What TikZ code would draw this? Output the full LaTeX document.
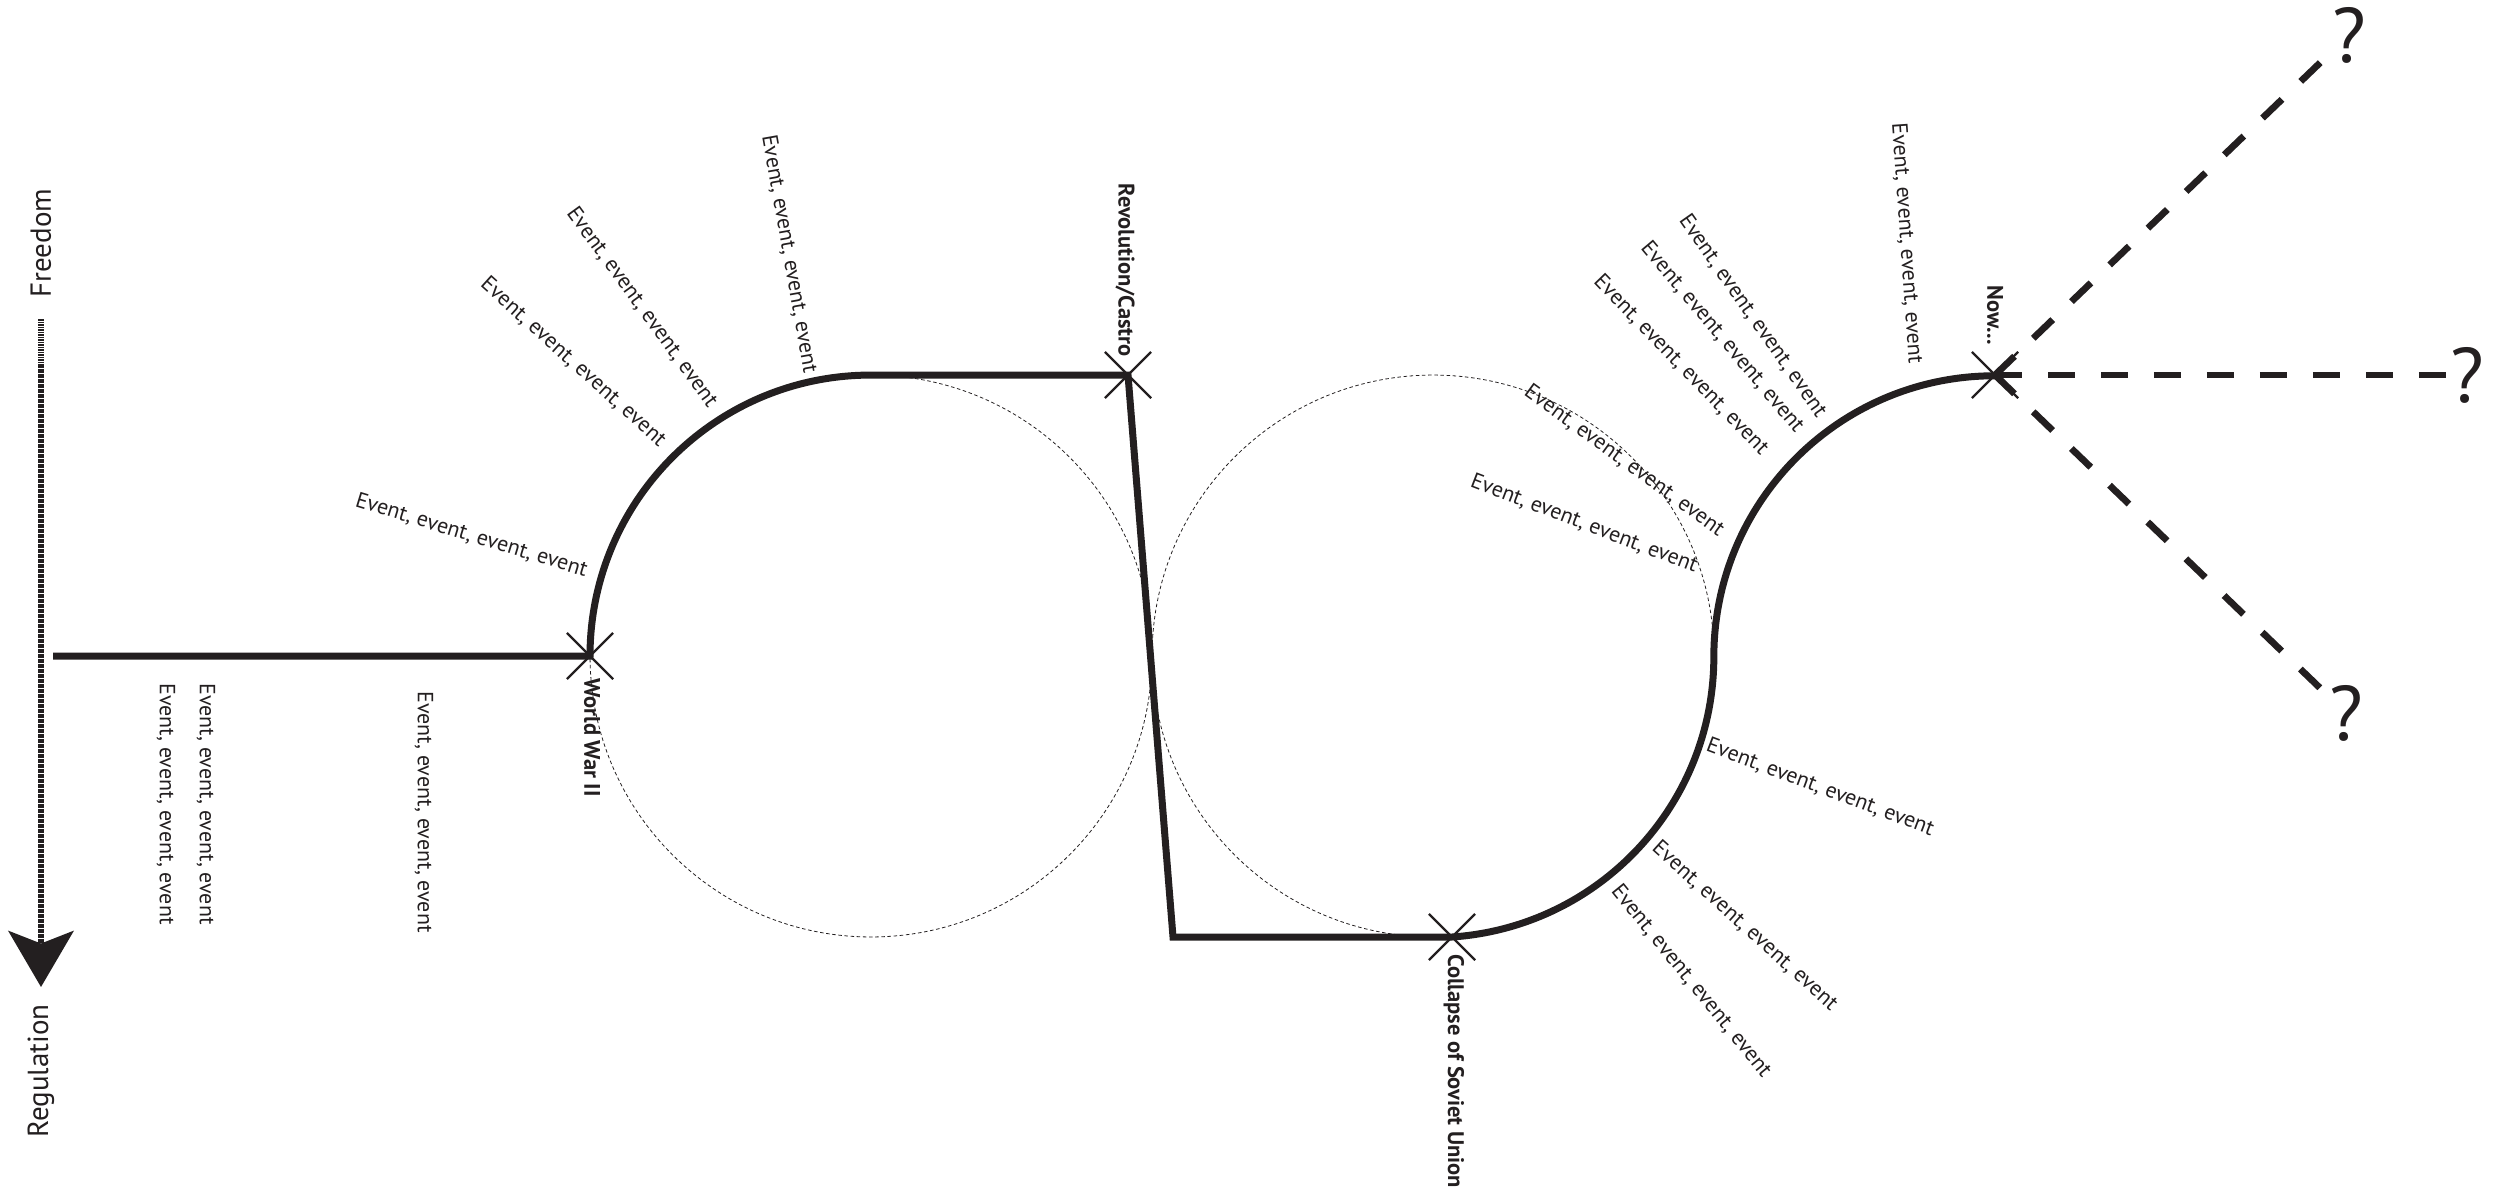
\documentclass[tikz,border=0pt]{standalone}
\usepackage{fontspec}
\setmainfont{PT Sans}
\usetikzlibrary{arrows.meta,shapes.misc}
\definecolor{ink}{RGB}{35,31,32}
\begin{document}
\begin{tikzpicture}[x=0.02cm,y=0.02cm,
  thickpath/.style={line width=0.14cm, draw=ink},
  guide/.style={line width=0.45pt, draw=ink, dash pattern=on 2pt off 1.5pt},
  xmark/.style={cross out, draw=ink, line width=0.045cm, minimum size=0.88cm, inner sep=0pt},
  evt/.style={font=\fontsize{12.5}{15}\selectfont, text=ink, inner sep=0pt},
  milestone/.style={font=\bfseries\fontsize{12.8}{15}\selectfont, text=ink, inner sep=0pt},
  axislab/.style={font=\fontsize{16.5}{19}\selectfont, text=ink, rotate=90, inner sep=0pt},
  qmark/.style={font=\fontsize{44}{50}\selectfont, text=ink, inner sep=2pt},
  future/.style={line width=0.135cm, draw=ink, dash pattern=on 0.54cm off 0.52cm},
  axisline/.style={draw=ink, line width=0.13cm, dash pattern=on 0.034cm off 0.016cm,
     -{Stealth[length=1.12cm,width=1.3cm,inset=0.25cm]}}
]
\fill[white] (0,0) rectangle (2502,-1194);
\useasboundingbox (0,0) rectangle (2502,-1194);

% axis
\node[axislab] (freedom) at (41,-243) {Freedom};
\node[axislab] (regulation) at (41,-1071) {Regulation};
\coordinate (axtop) at (41,-319);
\coordinate (axtip) at (41,-987);
\draw[axisline] (axtop) -- (axtip);

% guide circles
\draw[guide] (871,-656) circle[radius=5.62cm];
\draw[guide] (1433,-656) circle[radius=5.62cm];

% milestones
\node[xmark] (wwii) at (590,-656) {};
\node[xmark] (rev) at (1128,-375) {};
\node[xmark] (coll) at (1452,-937) {};
\node[xmark] (now) at (1995,-375) {};

\coordinate (start) at (53,-656);
\coordinate (bend) at (1173,-937);
\draw[thickpath] (start) -- (wwii.center)
  arc[start angle=180,end angle=90,radius=5.62cm] -- (rev.center) -- (bend) -- (coll.center)
  arc[start angle=-86.1,end angle=0,radius=5.62cm]
  arc[start angle=180,end angle=90,radius=5.62cm];

\node[milestone, rotate=-90, anchor=west] (wwiilab) at (592,-678) {World War II};
\node[milestone, rotate=-90, anchor=east] (revlab) at (1125,-357) {Revolution/Castro};
\node[milestone, rotate=-90, anchor=west] (colllab) at (1454,-954) {Collapse of Soviet Union};
\node[milestone, rotate=-90, anchor=east] (nowlab) at (1995,-345) {Now...};

% events under the first line
\node[evt, rotate=-90, anchor=west] (d2) at (166,-683) {Event, event, event, event};
\node[evt, rotate=-90, anchor=west] (d1) at (206,-683) {Event, event, event, event};
\node[evt, rotate=-90, anchor=west] (d3) at (424,-691) {Event, event, event, event};

% events around the first arc
\node[evt, rotate=-17, anchor=east] (a1) at (587,-571) {Event, event, event, event};
\node[evt, rotate=-42, anchor=east] (a2) at (663,-443) {Event, event, event, event};
\node[evt, rotate=-54, anchor=east] (a3) at (713,-405) {Event, event, event, event};
\node[evt, rotate=-80, anchor=east] (a4) at (810,-373) {Event, event, event, event};

% events around the last arc
\node[evt, rotate=-86, anchor=east] (b1) at (1915,-364) {Event, event, event, event};
\node[evt, rotate=-55, anchor=east] (b2) at (1822,-415) {Event, event, event, event};
\node[evt, rotate=-50, anchor=east] (b3) at (1800,-430) {Event, event, event, event};
\node[evt, rotate=-46, anchor=east] (b4) at (1765,-452) {Event, event, event, event};
\node[evt, rotate=-36, anchor=east] (b5) at (1722,-532) {Event, event, event, event};
\node[evt, rotate=-21, anchor=east] (b6) at (1697,-567) {Event, event, event, event};

% events after the collapse
\node[evt, rotate=-20.6, anchor=west] (c1) at (1707,-745) {Event, event, event, event};
\node[evt, rotate=-42, anchor=west] (c2) at (1655,-845) {Event, event, event, event};
\node[evt, rotate=-51, anchor=west] (c3) at (1615,-887) {Event, event, event, event};

% futures
\node[qmark] (q1) at (2349,-35) {?};
\node[qmark] (q2) at (2467,-375) {?};
\node[qmark] (q3) at (2346,-713) {?};
\draw[future] (now.center) -- (q1);
\draw[future] (now.center) -- (q2);
\draw[future] (now.center) -- (q3);
\end{tikzpicture}
\end{document}
